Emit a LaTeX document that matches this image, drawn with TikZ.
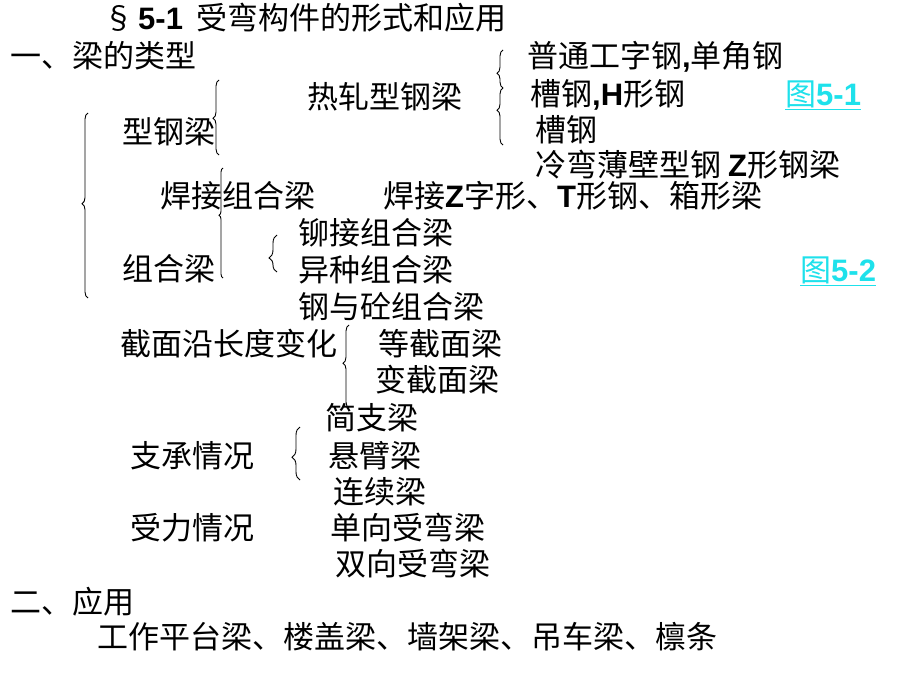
\documentclass[tikz,border=0pt]{standalone}
\usepackage{fontspec}
\setmainfont{Noto Sans CJK SC}
\newfontfamily\latf{Liberation Sans}
\usetikzlibrary{decorations.pathreplacing}
\newcommand{\lat}[1]{{\latf\bfseries #1}}
\definecolor{linkcyan}{RGB}{30,225,235}

\begin{document}
\begin{tikzpicture}[x=1pt,y=-1pt,
   every node/.style={anchor=west,inner sep=0pt,text height=24pt,text depth=2.5pt,
      font=\fontsize{31}{36}\selectfont},
   brc/.style={decorate,line width=0.9pt}]
   \useasboundingbox[fill=white] (0,0) rectangle (920,690);

   \node (title) at (103,19) {§\hspace{4pt}\lat{5-1}\hspace{13pt}受弯构件的形式和应用};
   \node (sec1) at (10,57) {一、梁的类型};

   \node (hotA) at (527,57) {普通工字钢\lat{,}单角钢};
   \node (hot) at (307,98) {热轧型钢梁};
   \node (hotB) at (530,95) {槽钢\lat{,H}形钢};
   \node[text=linkcyan] (fig51) at (785,95) {图\lat{5-1}};
   \node (shaped) at (122,133) {型钢梁};
   \node (hotC) at (535,131) {槽钢};
   \node (cold) at (535,166) {冷弯薄壁型钢 \lat{Z}形钢梁};
   \node (weld) at (160,197) {焊接组合梁};
   \node (weldA) at (383,197) {焊接\lat{Z}字形、\lat{T}形钢、箱形梁};
   \node (rivet) at (298,234) {铆接组合梁};
   \node (compound) at (122,270) {组合梁};
   \node (mixed) at (298,271) {异种组合梁};
   \node[text=linkcyan] (fig52) at (800,271) {图\lat{5-2}};
   \node (composite) at (298,308) {钢与砼组合梁};

   \node (vary) at (120,345) {截面沿长度变化};
   \node (varyA) at (378,345) {等截面梁};
   \node (varyB) at (375,381) {变截面梁};

   \node (simple) at (325,419) {简支梁};
   \node (support) at (130,457) {支承情况};
   \node (canti) at (328,457) {悬臂梁};
   \node (contin) at (333,493) {连续梁};
   \node (force) at (130,529) {受力情况};
   \node (oneway) at (330,529) {单向受弯梁};
   \node (twoway) at (335,565) {双向受弯梁};

   \node (sec2) at (10,603) {二、应用};
   \node (uses) at (97,638) {工作平台梁、楼盖梁、墙架梁、吊车梁、檩条};

   % links
   \draw[linkcyan,line width=1pt] ([yshift=-1pt]fig51.south west) -- ([yshift=-1pt]fig51.south east);
   \draw[linkcyan,line width=1pt] ([yshift=-1pt]fig52.south west) -- ([yshift=-1pt]fig52.south east);

   % braces
   \draw[brc,decoration={brace,amplitude=6pt,aspect=0.51}] (88,298) -- (88,113);
   \draw[brc,decoration={brace,amplitude=6pt,aspect=0.49}] (219,155) -- (219,80);
   \draw[brc,decoration={brace,amplitude=6pt,aspect=0.39}] (503,88) -- (503,50);
   \draw[brc,decoration={brace,amplitude=6pt,aspect=0.61}] (503,145) -- (503,88);
   \draw[brc,decoration={brace,amplitude=4pt,aspect=0.57}] (223,278) -- (223,168);
   \draw[brc,decoration={brace,amplitude=8pt,aspect=0.38}] (277,272) -- (277,235);
   \draw[brc,decoration={brace,amplitude=6pt,aspect=0.54}] (349,408) -- (349,325);
   \draw[brc,decoration={brace,amplitude=8pt,aspect=0.43}] (300,480) -- (300,427);
\end{tikzpicture}
\end{document}
